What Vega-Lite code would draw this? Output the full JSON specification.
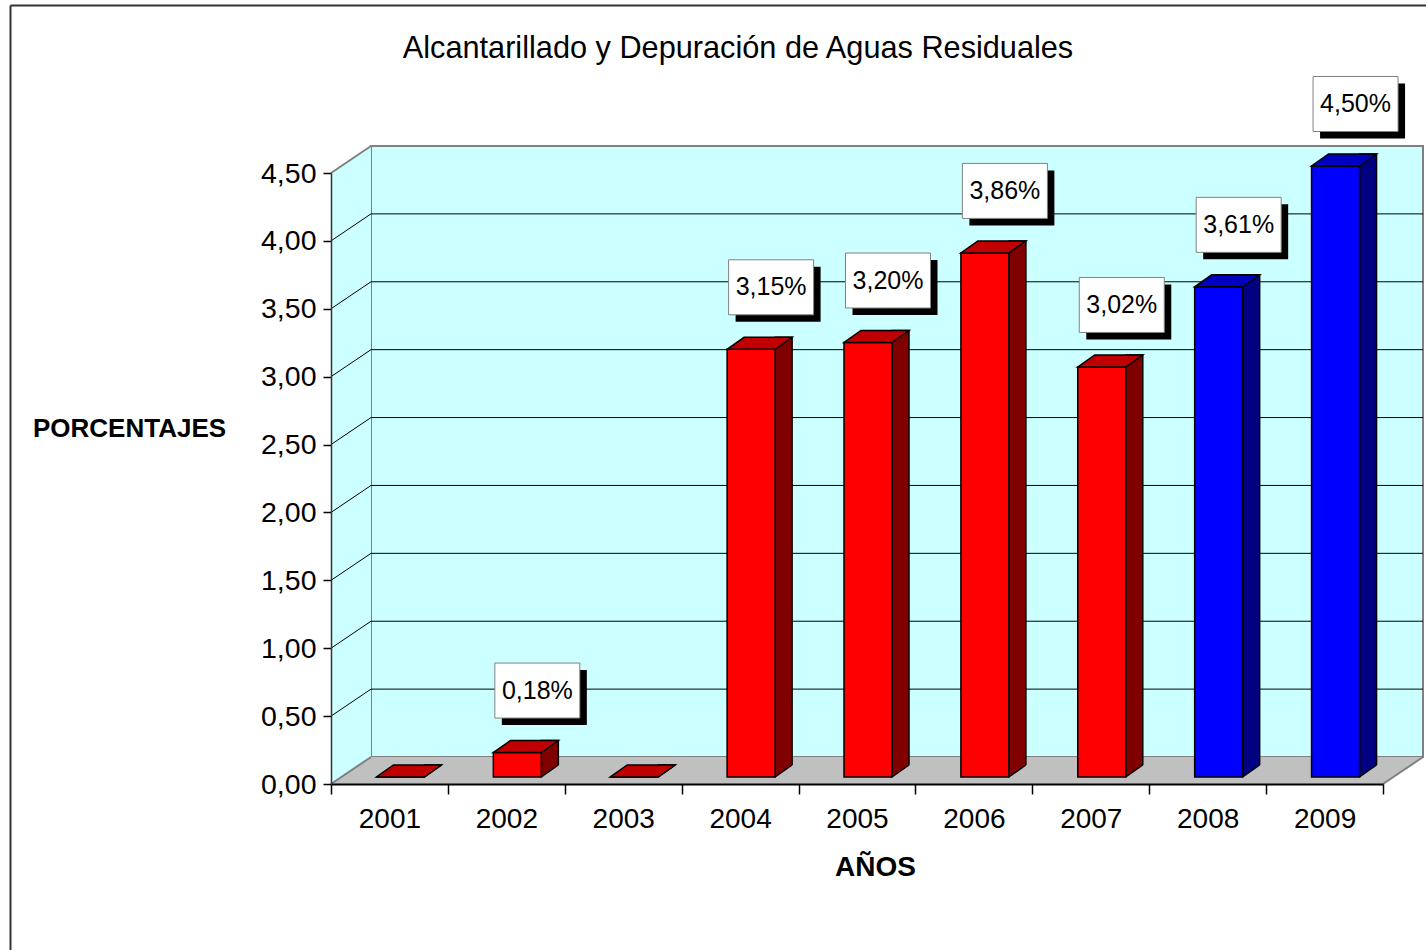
{
  "$schema": "https://vega.github.io/schema/vega-lite/v6.json",
  "width": 1052,
  "height": 611,
  "autosize": {"type": "none"},
  "padding": {"left": 331, "top": 173, "right": 43, "bottom": 166},
  "background": "white",
  "title": {
    "text": "Alcantarillado y Depuración de Aguas Residuales",
    "anchor": "middle",
    "frame": "group",
    "dx": -119,
    "offset": -84,
    "baseline": "alphabetic",
    "fontSize": 30.7,
    "fontWeight": "normal",
    "font": "Liberation Sans",
    "color": "black"
  },
  "config": {
    "view": {"stroke": null},
    "locale": {"number": {"decimal": ",", "thousands": ".", "grouping": [3], "currency": ["", "%"]}},
    "font": "Liberation Sans"
  },
  "datasets": {
    "datos": [
      {"anio": 2001, "valor": 0, "grupo": "2001-2007"},
      {"anio": 2002, "valor": 0.18, "grupo": "2001-2007"},
      {"anio": 2003, "valor": 0, "grupo": "2001-2007"},
      {"anio": 2004, "valor": 3.15, "grupo": "2001-2007"},
      {"anio": 2005, "valor": 3.2, "grupo": "2001-2007"},
      {"anio": 2006, "valor": 3.86, "grupo": "2001-2007"},
      {"anio": 2007, "valor": 3.02, "grupo": "2001-2007"},
      {"anio": 2008, "valor": 3.61, "grupo": "2008-2009"},
      {"anio": 2009, "valor": 4.5, "grupo": "2008-2009"}
    ],
    "rejilla": [{"g": 0.5}, {"g": 1}, {"g": 1.5}, {"g": 2}, {"g": 2.5}, {"g": 3}, {"g": 3.5}, {"g": 4}],
    "bordes": [{"g": 0}, {"g": 4.5}],
    "uno": [{}]
  },
  "resolve": {
    "scale": {"x": "independent", "y": "independent", "color": "independent"},
    "axis": {"x": "independent", "y": "independent"}
  },
  "layer": [
    {
      "data": {"name": "datos"},
      "resolve": {"scale": {"color": "independent"}},
      "layer": [
        {
          "data": {"name": "uno"},
          "mark": {"type": "rect", "fill": "#CCFFFF", "stroke": "#808080", "strokeWidth": 2, "xOffset": 40, "x2Offset": 40, "yOffset": -27, "y2Offset": -27},
          "encoding": {
            "x": {"datum": 2000.5, "type": "quantitative", "scale": {"domain": [2000.5, 2009.5], "zero": false, "nice": false, "padding": 0}},
            "x2": {"datum": 2009.5},
            "y": {"datum": 0, "type": "quantitative", "scale": {"domain": [0, 4.5], "zero": false, "nice": false, "padding": 0}},
            "y2": {"datum": 4.5}
          }
        },
        {
          "data": {"name": "uno"},
          "mark": {"type": "rect", "fill": "#C0C0C0", "x2Offset": 40, "yOffset": -27},
          "encoding": {
            "x": {"datum": 2000.5, "type": "quantitative"},
            "x2": {"datum": 2009.5},
            "y": {"datum": 0, "type": "quantitative"},
            "y2": {"datum": 0}
          }
        },
        {
          "data": {"name": "rejilla"},
          "mark": {"type": "rule", "color": "black", "strokeWidth": 1, "xOffset": 40, "x2Offset": 40, "yOffset": -27},
          "encoding": {
            "x": {"datum": 2000.5, "type": "quantitative"},
            "x2": {"datum": 2009.5},
            "y": {"field": "g", "type": "quantitative"}
          }
        },
        {
          "data": {"name": "uno"},
          "mark": {"type": "rect", "fill": "#CCFFFF", "x2Offset": 40, "yOffset": -27},
          "encoding": {
            "x": {"datum": 2000.5, "type": "quantitative"},
            "x2": {"datum": 2000.5},
            "y": {"datum": 4.5, "type": "quantitative"},
            "y2": {"datum": 0}
          }
        },
        {
          "data": {"name": "uno"},
          "mark": {"type": "point", "shape": "M0,0 L0,-27 L40,-27 Z", "size": 4, "filled": true, "fill": "white", "strokeWidth": 0, "opacity": 1},
          "encoding": {
            "x": {"datum": 2000.5, "type": "quantitative"},
            "y": {"datum": 4.5, "type": "quantitative"}
          }
        },
        {
          "data": {"name": "uno"},
          "mark": {"type": "point", "shape": "M0,0 L40,0 L40,-27 Z", "size": 4, "filled": true, "fill": "#C0C0C0", "strokeWidth": 0, "opacity": 1},
          "encoding": {
            "x": {"datum": 2000.5, "type": "quantitative"},
            "y": {"datum": 0, "type": "quantitative"}
          }
        },
        {
          "data": {"name": "uno"},
          "mark": {"type": "point", "shape": "M0,0 L41,0 L40,-27 Z", "size": 4, "filled": true, "fill": "white", "strokeWidth": 0, "opacity": 1},
          "encoding": {
            "x": {"datum": 2009.5, "type": "quantitative"},
            "y": {"datum": 0, "type": "quantitative"}
          }
        },
        {
          "data": {"name": "rejilla"},
          "mark": {"type": "rule", "color": "black", "strokeWidth": 1, "x2Offset": 40, "y2Offset": -27},
          "encoding": {
            "x": {"datum": 2000.5, "type": "quantitative"},
            "x2": {"datum": 2000.5},
            "y": {"field": "g", "type": "quantitative"},
            "y2": {"field": "g"}
          }
        },
        {
          "data": {"name": "bordes"},
          "mark": {"type": "rule", "color": "#808080", "strokeWidth": 2, "x2Offset": 40, "y2Offset": -27},
          "encoding": {
            "x": {"datum": 2000.5, "type": "quantitative"},
            "x2": {"datum": 2000.5},
            "y": {"field": "g", "type": "quantitative"},
            "y2": {"field": "g"}
          }
        },
        {
          "data": {"name": "uno"},
          "mark": {"type": "rule", "color": "#808080", "strokeWidth": 2, "x2Offset": 40, "y2Offset": -27},
          "encoding": {
            "x": {"datum": 2009.5, "type": "quantitative"},
            "x2": {"datum": 2009.5},
            "y": {"datum": 0, "type": "quantitative"},
            "y2": {"datum": 0}
          }
        },
        {
          "mark": {"type": "bar", "size": 17, "xOffset": 43.5, "yOffset": -19, "y2Offset": -7, "stroke": "black", "strokeWidth": 1.5},
          "encoding": {
            "x": {"field": "anio", "type": "quantitative"},
            "y": {"field": "valor", "type": "quantitative"},
            "y2": {"datum": 0},
            "color": {"field": "grupo", "type": "nominal", "scale": {"domain": ["2001-2007", "2008-2009"], "range": ["#800000", "#000080"]}, "legend": null}
          }
        },
        {
          "mark": {"type": "point", "shape": "M0,0 L17,-12 L19,-12 L19,2 L0,2 Z", "size": 4, "filled": true, "fill": "#C0C0C0", "strokeWidth": 0, "opacity": 1, "xOffset": 35, "yOffset": -7},
          "encoding": {
            "x": {"field": "anio", "type": "quantitative"},
            "y": {"datum": 0, "type": "quantitative"}
          }
        },
        {
          "mark": {"type": "point", "shape": "M0,0 L17,-12", "size": 4, "filled": false, "stroke": "black", "strokeWidth": 1.5, "opacity": 1, "xOffset": 35, "yOffset": -7},
          "encoding": {
            "x": {"field": "anio", "type": "quantitative"},
            "y": {"datum": 0, "type": "quantitative"}
          }
        },
        {
          "mark": {"type": "bar", "size": 48, "xOffset": 11, "yOffset": -7, "y2Offset": -7, "stroke": "black", "strokeWidth": 1.5},
          "encoding": {
            "x": {
              "field": "anio", "type": "quantitative",
              "axis": {
                "orient": "bottom",
                "values": [2000.5, 2001.5, 2002.5, 2003.5, 2004.5, 2005.5, 2006.5, 2007.5, 2008.5, 2009.5],
                "labelExpr": "datum.value > 2009 ? '' : format(datum.value + 0.5, 'd')",
                "labelOffset": 58.44,
                "labelFlush": false, "labelOverlap": false, "labelBound": false,
                "tickSize": 10, "tickColor": "black", "tickWidth": 1.5,
                "domainColor": "black", "domainWidth": 2,
                "labelFontSize": 28, "labelColor": "black", "labelPadding": 11, "labelFont": "Liberation Sans",
                "grid": false, "zindex": 1,
                "title": "AÑOS", "titleFontSize": 28, "titleFontWeight": "bold", "titleColor": "black", "titleFont": "Liberation Sans",
                "titleX": 544, "titleY": 83, "titleBaseline": "middle", "titleAlign": "center", "titleAngle": 0
              }
            },
            "y": {
              "field": "valor", "type": "quantitative",
              "axis": {
                "orient": "left",
                "values": [0, 0.5, 1, 1.5, 2, 2.5, 3, 3.5, 4, 4.5],
                "format": ".2f",
                "labelFontSize": 28.5, "labelColor": "black", "labelFont": "Liberation Sans",
                "labelFlush": false, "labelOverlap": false, "labelBound": false,
                "tickSize": 8, "tickColor": "black", "tickWidth": 1.5,
                "domainColor": "#333333", "domainWidth": 1.5,
                "labelPadding": 7, "grid": false, "zindex": 1,
                "title": "PORCENTAJES", "titleAngle": 0, "titleX": -202, "titleY": 255,
                "titleAlign": "center", "titleBaseline": "middle",
                "titleFontSize": 26, "titleFontWeight": "bold", "titleColor": "black", "titleFont": "Liberation Sans"
              }
            },
            "y2": {"datum": 0},
            "color": {"field": "grupo", "type": "nominal", "scale": {"domain": ["2001-2007", "2008-2009"], "range": ["#FF0000", "#0000FF"]}, "legend": null}
          }
        },
        {
          "mark": {"type": "point", "shape": "M-24,0 L24,0 L41,-12 L-7,-12 Z", "size": 4, "filled": true, "stroke": "black", "strokeWidth": 1.5, "opacity": 1, "xOffset": 11, "yOffset": -7},
          "encoding": {
            "x": {"field": "anio", "type": "quantitative"},
            "y": {"field": "valor", "type": "quantitative"},
            "color": {"field": "grupo", "type": "nominal", "scale": {"domain": ["2001-2007", "2008-2009"], "range": ["#C00000", "#0000C0"]}, "legend": null}
          }
        },
        {
          "transform": [{"filter": "datum.valor > 0"}],
          "mark": {"type": "bar", "size": 85, "color": "black", "xOffset": 38, "yOffset": -89.5, "y2Offset": -34.5},
          "encoding": {
            "x": {"field": "anio", "type": "quantitative"},
            "y": {"field": "valor", "type": "quantitative"},
            "y2": {"field": "valor"}
          }
        },
        {
          "transform": [{"filter": "datum.valor > 0"}],
          "mark": {"type": "bar", "size": 85, "fill": "white", "stroke": "#808080", "strokeWidth": 1, "xOffset": 31, "yOffset": -96.5, "y2Offset": -41.5},
          "encoding": {
            "x": {"field": "anio", "type": "quantitative"},
            "y": {"field": "valor", "type": "quantitative"},
            "y2": {"field": "valor"}
          }
        },
        {
          "transform": [{"filter": "datum.valor > 0"}],
          "mark": {"type": "text", "dx": 31, "dy": -69, "align": "center", "baseline": "middle", "fontSize": 25, "font": "Liberation Sans", "color": "black"},
          "encoding": {
            "x": {"field": "anio", "type": "quantitative"},
            "y": {"field": "valor", "type": "quantitative"},
            "text": {"field": "valor", "type": "quantitative", "format": "$.2f"}
          }
        }
      ]
    },
    {
      "data": {"name": "uno"},
      "mark": {"type": "point", "opacity": 0},
      "encoding": {
        "x": {
          "datum": 0, "type": "quantitative",
          "scale": {"domain": [0, 1], "range": [-321, 1095], "zero": false, "nice": false},
          "axis": {"orient": "top", "offset": 168, "domain": true, "domainColor": "#333333", "domainWidth": 2, "ticks": false, "labels": false, "grid": false, "title": null}
        },
        "y": {
          "datum": 0, "type": "quantitative",
          "scale": {"domain": [0, 1], "range": [777, -168], "zero": false, "nice": false},
          "axis": {"orient": "left", "offset": 321, "domain": true, "domainColor": "#333333", "domainWidth": 2, "ticks": false, "labels": false, "grid": false, "title": null}
        }
      }
    }
  ]
}
